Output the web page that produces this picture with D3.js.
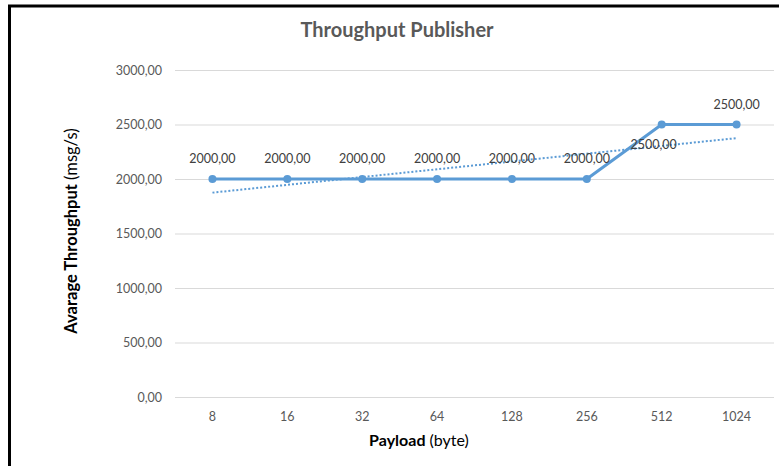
<!DOCTYPE html>
<html>
<head>
<meta charset="utf-8">
<script src="https://cdn.jsdelivr.net/npm/d3@7"></script>
<style>
  html, body { margin: 0; padding: 0; background: #fff; }
  svg { display: block; }
  text { font-family: "Lato", "Open Sans", sans-serif; }
</style>
</head>
<body>
<svg id="chart" width="779" height="466"></svg>
<script>
// Payload sizes (bytes) and measured publisher throughput (msg/s)
const payloads = ["8", "16", "32", "64", "128", "256", "512", "1024"];
const throughput = [2000, 2000, 2000, 2000, 2000, 2000, 2500, 2500];
const yTicks = [0, 500, 1000, 1500, 2000, 2500, 3000];

const svg = d3.select("#chart");
const W = 779, H = 466;
const plot = { left: 175, right: 774, top: 70, bottom: 397 };
const blue = "#5B9BD5";
const grey = "#595959";
const fmt = v => d3.format(".2f")(v).replace(".", ",");

// Frame (left and top edges)
svg.append("rect").attr("width", W).attr("height", H).attr("fill", "#fff");
svg.append("line").attr("x1", 9.5).attr("x2", 9.5).attr("y1", 5).attr("y2", H)
  .attr("stroke", "#000").attr("stroke-width", 3);
svg.append("line").attr("x1", 8).attr("x2", W).attr("y1", 6).attr("y2", 6)
  .attr("stroke", "#000").attr("stroke-width", 3);

const x = d3.scaleBand().domain(payloads).range([plot.left, plot.right]);
const y = d3.scaleLinear().domain([0, 3000]).range([plot.bottom, plot.top]);

// Horizontal gridlines + y tick labels
const yAxis = d3.axisLeft(y).tickValues(yTicks).tickFormat(fmt)
  .tickSize(-(plot.right - plot.left)).tickPadding(13);
const gy = svg.append("g").attr("transform", `translate(${plot.left},0)`).call(yAxis);
gy.select(".domain").remove();
gy.selectAll(".tick line").attr("stroke", "#d9d9d9").attr("stroke-width", 1);
gy.selectAll(".tick text").attr("fill", grey).attr("font-size", 12.5);

// Category labels
const xAxis = d3.axisBottom(x).tickSize(0).tickPadding(15);
const gx = svg.append("g").attr("transform", `translate(0,${plot.bottom})`).call(xAxis);
gx.select(".domain").remove();
gx.selectAll(".tick text").attr("fill", grey).attr("font-size", 12.5);

const cx = d => x(d) + x.bandwidth() / 2;

// Linear trendline (least squares over category index)
const n = throughput.length;
const idx = d3.range(1, n + 1);
const mx = d3.mean(idx), my = d3.mean(throughput);
const slope = d3.sum(idx, (t, i) => (t - mx) * (throughput[i] - my)) /
              d3.sum(idx, t => (t - mx) * (t - mx));
const intercept = my - slope * mx;
const trend = payloads.map((p, i) => ({ p, v: intercept + slope * (i + 1) }));
const trendEnds = [trend[0], trend[n - 1]];
svg.append("path")
  .datum(trendEnds)
  .attr("d", d3.line().x(d => cx(d.p)).y(d => y(d.v)))
  .attr("fill", "none").attr("stroke", blue).attr("stroke-width", 2)
  .attr("stroke-dasharray", "2,2");

// Throughput line with markers
const pts = payloads.map((p, i) => ({ p, v: throughput[i] }));
svg.append("path")
  .datum(pts)
  .attr("d", d3.line().x(d => cx(d.p)).y(d => y(d.v)))
  .attr("fill", "none").attr("stroke", blue).attr("stroke-width", 3)
  .attr("stroke-linejoin", "round");
svg.selectAll("circle.pt").data(pts).enter().append("circle")
  .attr("class", "pt")
  .attr("cx", d => cx(d.p)).attr("cy", d => y(d.v)).attr("r", 4)
  .attr("fill", blue);

// Value labels (512 sits below its point)
svg.selectAll("text.val").data(pts).enter().append("text")
  .attr("class", "val")
  .attr("x", d => cx(d.p) - (d.p === "512" ? 8 : 0))
  .attr("y", d => y(d.v) + (d.p === "512" ? 24 : -16))
  .attr("text-anchor", "middle")
  .attr("fill", "#404040").attr("font-size", 12.5)
  .text(d => fmt(d.v));

// Title
svg.append("text").attr("x", 397).attr("y", 37).attr("text-anchor", "middle")
  .attr("fill", grey).attr("font-size", 20).attr("font-weight", "bold")
  .text("Throughput Publisher");

// Axis titles
const xt = svg.append("text").attr("x", 419).attr("y", 446).attr("text-anchor", "middle")
  .attr("fill", "#000").attr("font-size", 16);
xt.append("tspan").attr("font-weight", "bold").text("Payload");
xt.append("tspan").text(" (byte)");

const yt = svg.append("text").attr("transform", "translate(77,231) rotate(-90)")
  .attr("text-anchor", "middle").attr("fill", "#000").attr("font-size", 16.5);
yt.append("tspan").attr("font-weight", "bold").text("Avarage Throughput");
yt.append("tspan").text(" (msg/s)");
</script>
</body>
</html>
